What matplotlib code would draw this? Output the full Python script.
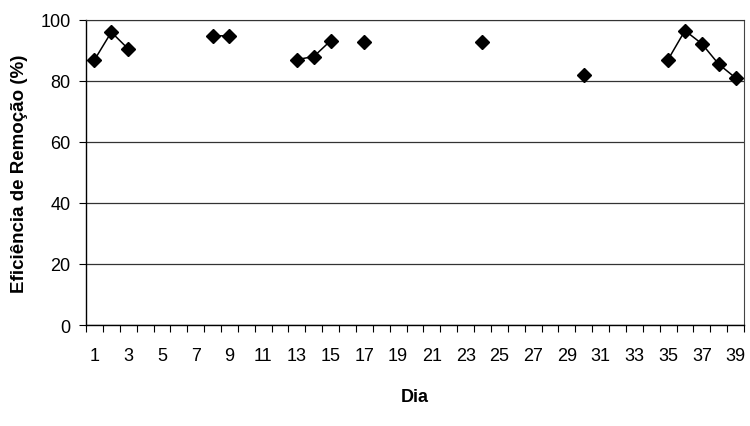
import matplotlib.pyplot as plt
import numpy as np

plt.rcParams['font.family'] = ['Liberation Sans', 'DejaVu Sans']

# Days 1..39 and removal efficiency (%); NaN where no measurement
dias = list(range(1, 40))
eficiencia = [86.9, 96.0, 90.5, None, None, None, None, 94.8, 94.8, None,
              None, None, 87.0, 88.0, 93.2, None, 92.6, None, None, None,
              None, None, None, 92.6, None, None, None, None, None, 82.0,
              None, None, None, None, 87.0, 96.5, 92.2, 85.5, 81.0]
ticks_y = [0, 20, 40, 60, 80, 100]

y = np.array([np.nan if v is None else v for v in eficiencia])
x = np.arange(len(dias))

fig = plt.figure(figsize=(7.5, 4.27), dpi=100)
ax = fig.add_axes([0.1147, 0.2365, 0.8773, 0.7145])

ax.plot(x, y, color='black', linewidth=1.1, marker='D', markersize=7,
        markerfacecolor='black', markeredgecolor='black', zorder=3)

ax.set_xlim(-0.5, len(dias) - 0.5)
ax.set_ylim(0, 100)
ax.set_yticks(ticks_y)
ax.yaxis.grid(True, color='#333333', linewidth=0.9)
ax.set_axisbelow(True)

# category ticks between labels, labels on odd days only
ax.set_xticks(np.arange(len(dias) + 1) - 0.5)
ax.set_xticklabels([])
ax.set_xticks(x[::2], minor=True)
ax.set_xticklabels([str(d) for d in dias[::2]], minor=True)
ax.tick_params(axis='x', which='major', length=5, direction='out', color='black')
ax.tick_params(axis='x', which='minor', length=0, pad=16, labelsize=13)
ax.tick_params(axis='y', length=5, direction='out', labelsize=13, pad=6)

for s in ['left', 'bottom']:
    ax.spines[s].set_color('black')
    ax.spines[s].set_linewidth(1.0)
ax.spines['right'].set_color('#444444')
ax.spines['top'].set_color('#333333')

ax.set_ylabel('Eficiência de Remoção (%)', fontsize=13.5, fontweight='bold', labelpad=9)
ax.set_xlabel('Dia', fontsize=13, fontweight='bold', labelpad=17)

fig.savefig('out.png', dpi=100)
